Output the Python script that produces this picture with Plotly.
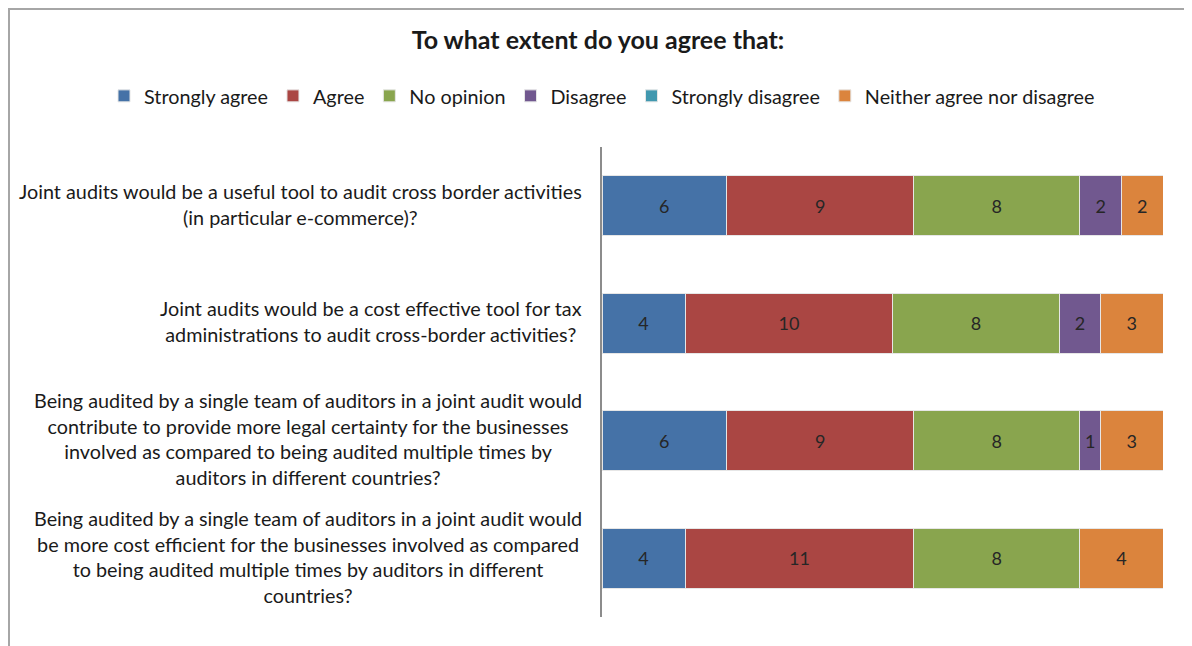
import plotly.graph_objects as go

questions = [
    "Joint audits would be a useful tool to audit cross border activities<br>(in particular e-commerce)?",
    "Joint audits would be a cost effective tool for tax<br>administrations to audit cross-border activities?",
    "Being audited by a single team of auditors in a joint audit would<br>contribute to provide more legal certainty for the businesses<br>involved as compared to being audited multiple times by<br>auditors in different countries?",
    "Being audited by a single team of auditors in a joint audit would<br>be more cost efficient for the businesses involved as compared<br>to being audited multiple times by auditors in different<br>countries?",
]
cat_ids = ["Q1", "Q2", "Q3", "Q4"]

strongly_agree = [6, 4, 6, 4]
agree = [9, 10, 9, 11]
no_opinion = [8, 8, 8, 8]
disagree = [2, 2, 1, 0]
strongly_disagree = [0, 0, 0, 0]
neither = [2, 3, 3, 4]

series = [
    ("Strongly agree", strongly_agree, "#4572A7"),
    ("Agree", agree, "#AA4643"),
    ("No opinion", no_opinion, "#89A54E"),
    ("Disagree", disagree, "#71588F"),
    ("Strongly disagree", strongly_disagree, "#4198AF"),
    ("Neither agree nor disagree", neither, "#DB843D"),
]

FONT = "Lato, 'Open Sans', sans-serif"

# page is rendered with an 8px body margin; figure coords = page coords - 8
OFF = 8
W, H = 1192, 646
L, T = 602 - OFF, 147 - OFF
PW, PH = 561, 470
R = W - L - PW
B = H - T - PH

fig = go.Figure()
for name, vals, color in series:
    fig.add_trace(go.Bar(
        name=name,
        y=cat_ids,
        x=[v if v else None for v in vals],
        orientation="h",
        marker=dict(color=color, line=dict(color="#e6e6e6", width=1)),
        text=[str(v) if v else "" for v in vals],
        textposition="inside",
        insidetextanchor="middle",
        textangle=0,
        textfont=dict(family=FONT, size=18, color="#262626"),
        hoverinfo="skip",
    ))

for cid, q in zip(cat_ids, questions):
    fig.add_annotation(
        x=-(602 - 584) / PW, xref="paper", y=cid, yref="y", yshift=2,
        text=q, showarrow=False, xanchor="right", yanchor="middle",
        align="center", font=dict(family=FONT, size=19.8, color="#1a1a1a"),
    )

fig.update_layout(
    barmode="stack",
    bargap=0.49,
    width=W, height=H,
    margin=dict(l=L, r=R, t=T, b=B, autoexpand=False),
    paper_bgcolor="white", plot_bgcolor="white",
    title=dict(text="<b>To what extent do you agree that:</b>",
               x=(598 - OFF) / W, xref="container", xanchor="center",
               y=1 - (40 - OFF) / H, yref="container", yanchor="middle",
               font=dict(family=FONT, size=25, color="#1a1a1a")),
    legend=dict(orientation="h", x=(104 - OFF - L) / PW, xref="paper", xanchor="left",
                y=1 + (T - (96 - OFF)) / PH, yref="paper", yanchor="middle",
                font=dict(family=FONT, size=19.8, color="#1a1a1a"),
                traceorder="normal", itemclick=False),
    showlegend=True,
    font=dict(family=FONT),
)
fig.update_xaxes(range=[0, 27], showgrid=False, showticklabels=False, zeroline=False,
                 showline=False, fixedrange=True)
fig.update_yaxes(autorange="reversed", showticklabels=False, showgrid=False,
                 showline=True, linecolor="#8c8c8c", linewidth=2, ticks="",
                 fixedrange=True)

# outer chart border
fig.add_shape(type="rect", xref="paper", yref="paper",
              x0=(1 - L) / PW, x1=(1190 - OFF - L) / PW,
              y0=-0.2, y1=1 + (T - 1) / PH,
              line=dict(color="#a6a6a6", width=2), layer="below")

fig.write_html("out.html")
